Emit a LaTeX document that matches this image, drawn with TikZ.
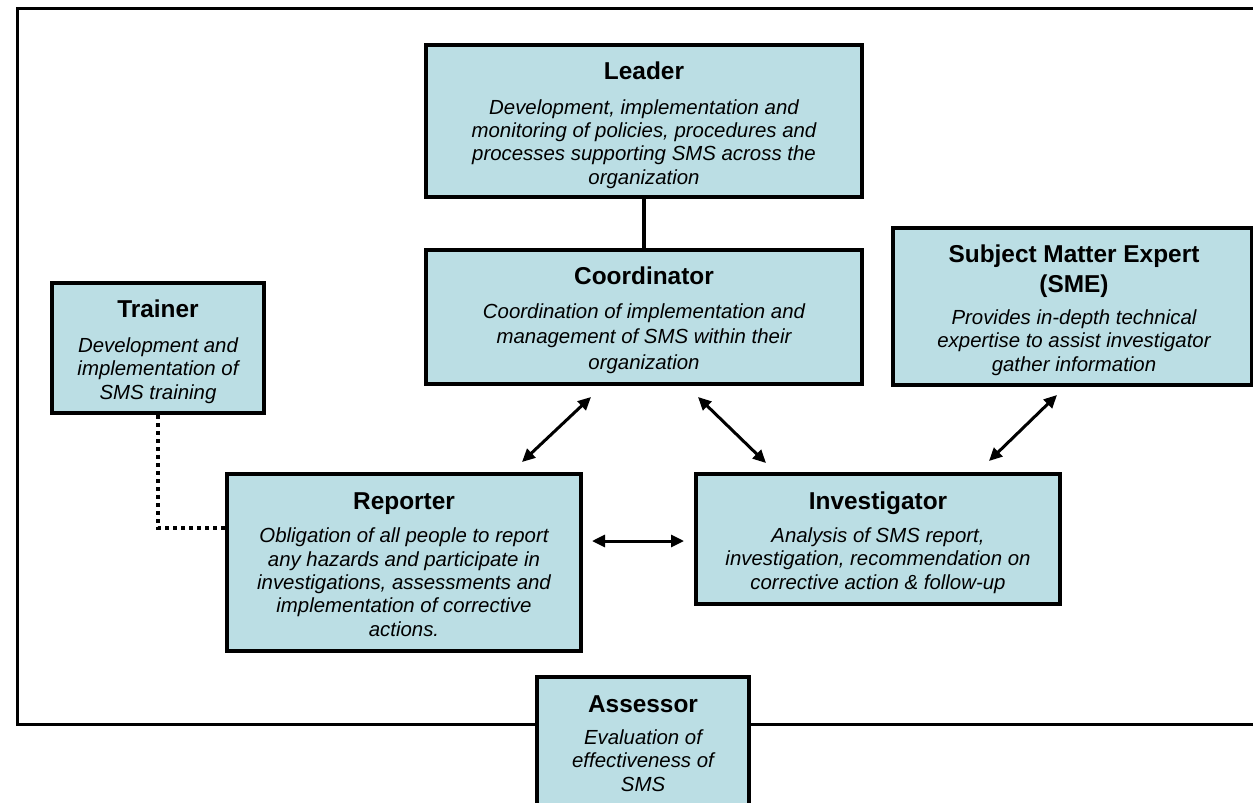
\documentclass[tikz,border=0pt]{standalone}
\usepackage{fontspec}
\setmainfont{Liberation Sans}
\usetikzlibrary{arrows.meta}
\definecolor{boxblue}{RGB}{187,222,228}
\newcommand\ttlfont{\fontsize{12.2}{15}\selectfont\bfseries}
\newcommand\bdyfont{\fontsize{10.2}{11.65}\selectfont\itshape}
\newcommand\bdywidefont{\fontsize{10.2}{12.6}\selectfont\itshape}
\begin{document}
\begin{tikzpicture}[x=0.5pt,y=-0.5pt,
  box/.style={draw=black, line width=2pt, fill=boxblue, inner sep=0pt, rectangle},
  ttl/.style={font=\ttlfont, align=center, anchor=base, inner sep=0pt},
  bdy/.style={font=\bdyfont, align=center, anchor=base, inner sep=0pt},
  bdywide/.style={font=\bdywidefont, align=center, anchor=base, inner sep=0pt},
  frame/.style={draw=black, line width=1.5pt},
  conn/.style={draw=black, line width=2pt},
  dotline/.style={draw=black, line width=2pt, dash pattern=on 2pt off 2pt},
  dblarrow/.style={draw=black, line width=1.5pt, {Triangle[length=6.5pt,width=6pt]}-{Triangle[length=6.5pt,width=6pt]}},
]
\useasboundingbox (0,0) rectangle (1253,803);
\clip (0,0) rectangle (1253,803);
\fill[white] (0,0) rectangle (1253,803);
% outer frame
\draw[frame] (17,8) rectangle (1300,724);
% boxes
\node[box, minimum width=218pt, minimum height=76pt] (leader) at (644,121) {};
\node[box, minimum width=218pt, minimum height=67pt] (coord) at (644,317) {};
\node[box, minimum width=179.5pt, minimum height=78.5pt] (sme) at (1072.5,306.5) {};
\node[box, minimum width=106pt, minimum height=65pt] (trainer) at (158,348) {};
\node[box, minimum width=177pt, minimum height=88.5pt] (reporter) at (404,562.5) {};
\node[box, minimum width=182pt, minimum height=65pt] (invest) at (878,539) {};
\node[box, minimum width=106pt, minimum height=73pt] (assessor) at (643,750) {};
% texts (anchor base = baseline of the last line)
\node[ttl] (leaderT) at (644,79) {Leader};
\node[bdy] (leaderB) at (644,184) {Development, implementation and\\monitoring of policies, procedures and\\processes supporting SMS across the\\organization};
\node[ttl] (coordT) at (644,284) {Coordinator};
\node[bdywide] (coordB) at (644,369) {Coordination of implementation and\\management of SMS within their\\organization};
\node[ttl] (smeT) at (1074,292) {Subject Matter Expert\\(SME)};
\node[bdy] (smeB) at (1074,371) {Provides in-depth technical\\expertise to assist investigator\\gather information};
\node[ttl] (trainerT) at (158,317) {Trainer};
\node[bdy] (trainerB) at (158,399) {Development and\\implementation of\\SMS training};
\node[ttl] (reporterT) at (404,509) {Reporter};
\node[bdy] (reporterB) at (404,636) {Obligation of all people to report\\any hazards and participate in\\investigations, assessments and\\implementation of corrective\\actions.};
\node[ttl] (investT) at (878,509) {Investigator};
\node[bdy] (investB) at (878,589) {Analysis of SMS report,\\investigation, recommendation on\\corrective action \& follow-up};
\node[ttl] (assessorT) at (643,712) {Assessor};
\node[bdy] (assessorB) at (643,791) {Evaluation of\\effectiveness of\\SMS};
% connectors
\draw[conn] (leader.south) -- (coord.north);
\coordinate (dotend) at (227,528);
\draw[dotline] (trainer.south) |- (dotend);
\coordinate (rcA) at (522,462);
\coordinate (rcB) at (591,397);
\coordinate (ciA) at (698,397);
\coordinate (ciB) at (766,463);
\coordinate (siA) at (1057,395);
\coordinate (siB) at (989,461);
\coordinate (riA) at (592,541);
\coordinate (riB) at (684,541);
\draw[dblarrow] (rcA) -- (rcB);
\draw[dblarrow] (ciA) -- (ciB);
\draw[dblarrow] (siA) -- (siB);
\draw[dblarrow] (riA) -- (riB);
\end{tikzpicture}
\end{document}
